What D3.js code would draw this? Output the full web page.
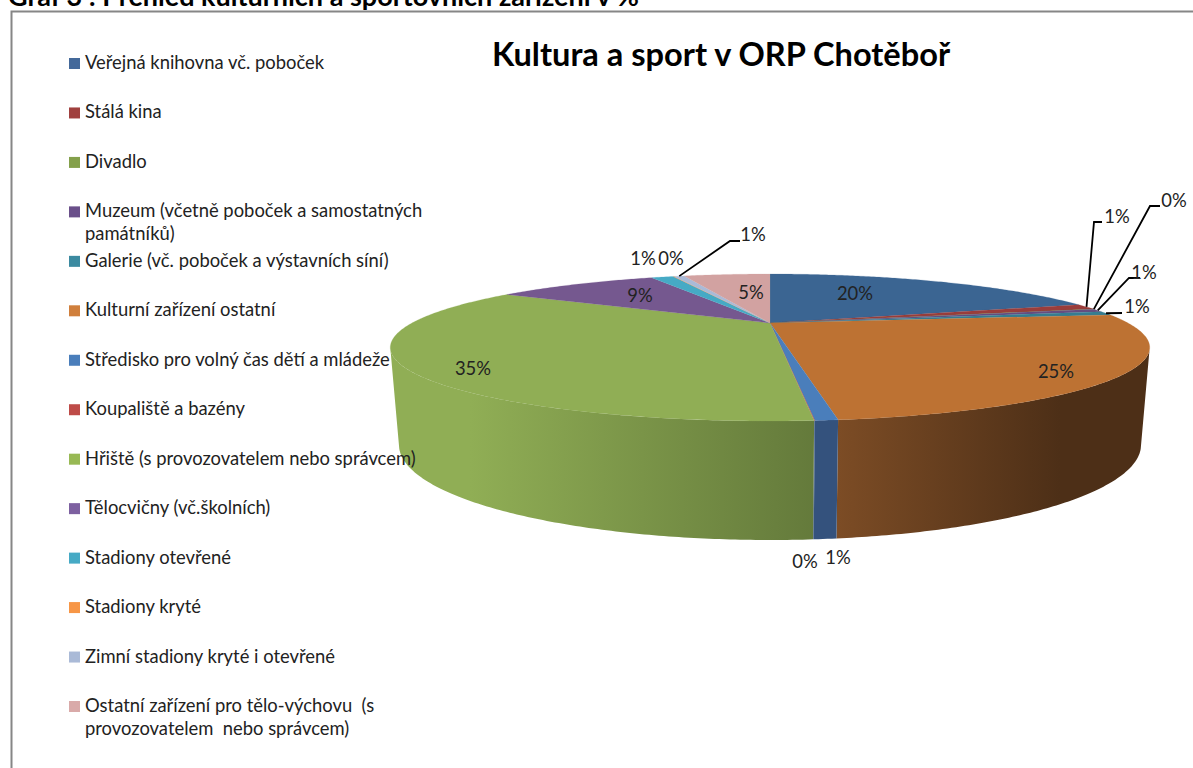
<!DOCTYPE html>
<html><head><meta charset="utf-8">
<style>html,body{margin:0;padding:0;background:#fff;overflow:hidden}svg{display:block}text{font-family:Lato,"Open Sans",sans-serif}</style>
<script src="https://cdnjs.cloudflare.com/ajax/libs/d3/7.8.5/d3.min.js"></script>
</head><body><svg id="c" width="1193" height="768"></svg>
<script>
const categories=["Veřejná knihovna vč. poboček","Stálá kina","Divadlo","Muzeum (včetně poboček a samostatných|památníků)","Galerie (vč. poboček a výstavních síní)","Kulturní zařízení ostatní","Středisko pro volný čas dětí a mládeže","Koupaliště a bazény","Hřiště (s provozovatelem nebo správcem)","Tělocvičny (vč.školních)","Stadiony otevřené","Stadiony kryté","Zimní stadiony kryté i otevřené","Ostatní zařízení pro tělo-výchovu  (s|provozovatelem  nebo správcem)"];
const values=[20,1.3,0.02,0.7,0.9,25,0.7,0.02,34.8,9.4,1.3,0.06,0.6,5.1];
const colors=["#3b6592","#9a3d3b","#7f9a48","#664d82","#357d91","#bd7233","#4a7ebb","#be4b48","#90ae55","#75588f","#46aac5","#f79646","#aabad7","#d2a2a1"];
const legendColors=["#44699a","#a0403e","#84a04b","#6a4f8a","#3b8aa0","#d07f3c","#4a7ebb","#be4b48","#98b954","#7d60a0","#46aac5","#f79646","#aabad7","#d9aaa9"];
const labelPos=[[855,294],[1117,217],[1174,201],[1144,273],[1137,307],[1056,372],[838,558],[805,562],[473,369],[640,296],[643,259],[671,259],[753,235],[751,293]];
const leaderElbow=[null,[1094,222,1102,222],[1150,206,1160,206],[1129,278,1140,278],[1122,313,1122,313],null,null,null,null,null,null,null,[730,241,740,241],null];
const svg=d3.select("#c");
svg.append("rect").attr("x",11.5).attr("y",11.5).attr("width",1300).attr("height",900).attr("fill","#fff").attr("stroke","#868686").attr("stroke-width",2);
svg.append("text").attr("x",8).attr("y",6).attr("font-size",27).attr("font-weight",700).attr("fill","#000").text("Graf 3 : Přehled kulturních a sportovních zařízení v %");
svg.append("text").attr("x",721).attr("y",66).attr("text-anchor","middle").attr("font-size",32.6).attr("font-weight",700).attr("fill","#000").text("Kultura a sport v ORP Chotěboř");
const pie=d3.pie().value(d=>d).sort(null)(values);
const cx=770,cy=323,A=65.33,B=358,k=1/3;
const topPt=t=>{const u=Math.sin(t),v=-Math.cos(t),w=1-k*v;return [cx+B*u/w,cy+A*v/w];};
const rxT=380,rxB=371,byc=445,byr=95;
const botPt=t=>{const p=topPt(t);const x=cx+(p[0]-cx)*rxB/rxT;const q=(x-cx)/rxB;return [x,byc+byr*Math.sqrt(Math.max(0,1-q*q))];};
const tR=Math.acos(-1/3),tL=Math.PI*2-tR;
const line=d3.line();
const sample=(a,b,f)=>{const n=Math.max(2,Math.ceil((b-a)/0.01));return d3.range(n+1).map(i=>f(a+(b-a)*i/n));};
const defs=svg.append("defs");
const wallStops={5:["#7c4c25","#4d2f17",838,1060],6:["#34527d","#34527d",810,840],7:["#34527d","#34527d",810,820],8:["#90ae55","#647a3b",470,815]};
const wg=svg.append("g");
pie.forEach((s,i)=>{
  const a=Math.max(s.startAngle,tR),b=Math.min(s.endAngle,tL);
  if(b<=a)return;
  const T=sample(a,b,topPt),Bo=sample(a,b,botPt).reverse();
  let fill=colors[i];
  const w=wallStops[i];
  if(w){
    const id="w"+i;
    const gr=defs.append("linearGradient").attr("id",id).attr("gradientUnits","userSpaceOnUse").attr("x1",w[2]).attr("x2",w[3]).attr("y1",0).attr("y2",0);
    gr.append("stop").attr("offset",0).attr("stop-color",w[0]);
    gr.append("stop").attr("offset",1).attr("stop-color",w[1]);
    fill=`url(#${id})`;
  }
  wg.append("path").attr("d",line([...T,...Bo])+"Z").attr("fill",fill);
});
const tg=svg.append("g");
pie.forEach((s,i)=>{
  const pts=[[cx,cy],...sample(s.startAngle,s.endAngle,topPt)];
  tg.append("path").attr("d",line(pts)+"Z").attr("fill",colors[i]).attr("stroke",colors[i]).attr("stroke-width",.2);
});
const lead=svg.append("g");
pie.forEach((s,i)=>{
  const e=leaderElbow[i];if(!e)return;
  const p=topPt((s.startAngle+s.endAngle)/2);
  lead.append("path").attr("d",line([p,[e[0],e[1]],[e[2],e[3]]])).attr("fill","none").attr("stroke","#000").attr("stroke-width",1.8);
});
const legY=d3.scalePoint().domain(d3.range(categories.length)).range([63,706]);
const lg=svg.append("g").selectAll("g").data(categories).join("g").attr("transform",(d,i)=>`translate(0,${legY(i)})`);
lg.append("rect").attr("x",69).attr("y",-5).attr("width",11).attr("height",11).attr("fill",(d,i)=>legendColors[i]);
lg.each(function(d){const g=d3.select(this);d.split("|").forEach((t,j)=>g.append("text").attr("x",85).attr("y",6+j*23).attr("font-size",18.4).attr("fill","#222").style("white-space","pre").text(t));});
const fmt=v=>Math.round(v)+"%";
svg.append("g").selectAll("text").data(values).join("text").attr("x",(d,i)=>labelPos[i][0]).attr("y",(d,i)=>labelPos[i][1]+6).attr("text-anchor","middle").attr("font-size",18.4).attr("fill","#222").text(fmt);
</script></body></html>
